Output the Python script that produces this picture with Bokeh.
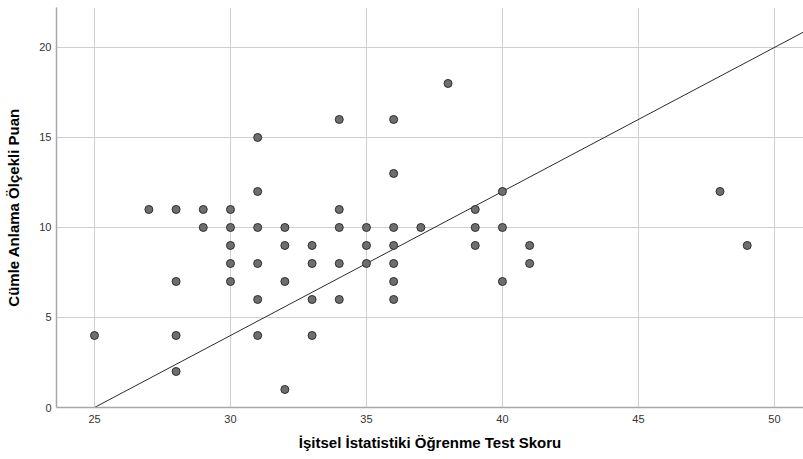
from bokeh.plotting import figure
from bokeh.models import Range1d, FixedTicker
from bokeh.embed import file_html
from bokeh.resources import INLINE

# Data
x_vals = [25, 27, 28, 28, 28, 28, 29, 29,
          30, 30, 30, 30, 30,
          31, 31, 31, 31, 31, 31,
          32, 32, 32, 32,
          33, 33, 33, 33,
          34, 34, 34, 34, 34,
          35, 35, 35,
          36, 36, 36, 36, 36, 36, 36,
          37, 38,
          39, 39, 39,
          40, 40, 40,
          41, 41,
          48, 49]
y_vals = [4, 11, 11, 7, 4, 2, 11, 10,
          11, 10, 9, 8, 7,
          15, 12, 10, 8, 6, 4,
          10, 9, 7, 1,
          9, 8, 6, 4,
          16, 11, 10, 8, 6,
          10, 9, 8,
          16, 13, 10, 9, 8, 7, 6,
          10, 18,
          11, 10, 9,
          12, 10, 7,
          9, 8,
          12, 9]

# Fit line (reference line)
fit_x = [25, 52]
fit_y = [0, 21.6]

x_ticks = [25, 30, 35, 40, 45, 50]
y_ticks = [0, 5, 10, 15, 20]

x_title = "İşitsel İstatistiki Öğrenme Test Skoru"
y_title = "Cümle Anlama Ölçekli Puan"

FONT = "Liberation Sans"

p = figure(width=803, height=459, output_backend="svg", toolbar_location=None,
           x_range=Range1d(23.603, 51.07), y_range=Range1d(0, 22.22),
           min_border_left=56, min_border_right=0, min_border_top=7,
           min_border_bottom=52)
p.outline_line_color = None
p.background_fill_color = "white"
p.border_fill_color = "white"

for ax in (p.xaxis[0], p.yaxis[0]):
    ax.major_tick_out = 0
    ax.major_tick_in = 0
    ax.minor_tick_out = 0
    ax.minor_tick_in = 0
    ax.axis_line_color = "#a8a8a8"
    ax.axis_line_width = 1.5
    ax.major_label_text_font = FONT
    ax.major_label_text_font_size = "11px"
    ax.major_label_text_color = "#333333"
    ax.axis_label_text_font = FONT
    ax.axis_label_text_font_size = "15px"
    ax.axis_label_text_font_style = "bold"
    ax.axis_label_text_color = "#000000"

p.xaxis[0].ticker = FixedTicker(ticks=x_ticks)
p.yaxis[0].ticker = FixedTicker(ticks=y_ticks)
p.xaxis[0].axis_label = x_title
p.yaxis[0].axis_label = y_title
p.xaxis[0].major_label_standoff = 7
p.yaxis[0].major_label_standoff = 5
p.xaxis[0].axis_label_standoff = 8
p.yaxis[0].axis_label_standoff = 14

p.xgrid[0].ticker = FixedTicker(ticks=x_ticks)
p.ygrid[0].ticker = FixedTicker(ticks=y_ticks)
p.xgrid.grid_line_color = "#cfcfcf"
p.ygrid.grid_line_color = "#cfcfcf"
p.xgrid.grid_line_width = 1
p.ygrid.grid_line_width = 1

p.line(fit_x, fit_y, line_color="#2b2b2b", line_width=1)

p.scatter(x_vals, y_vals, size=8, fill_color="#6e6e6e", line_color="#2e2e2e",
          line_width=1)

open("out.html", "w").write(file_html(p, INLINE))
